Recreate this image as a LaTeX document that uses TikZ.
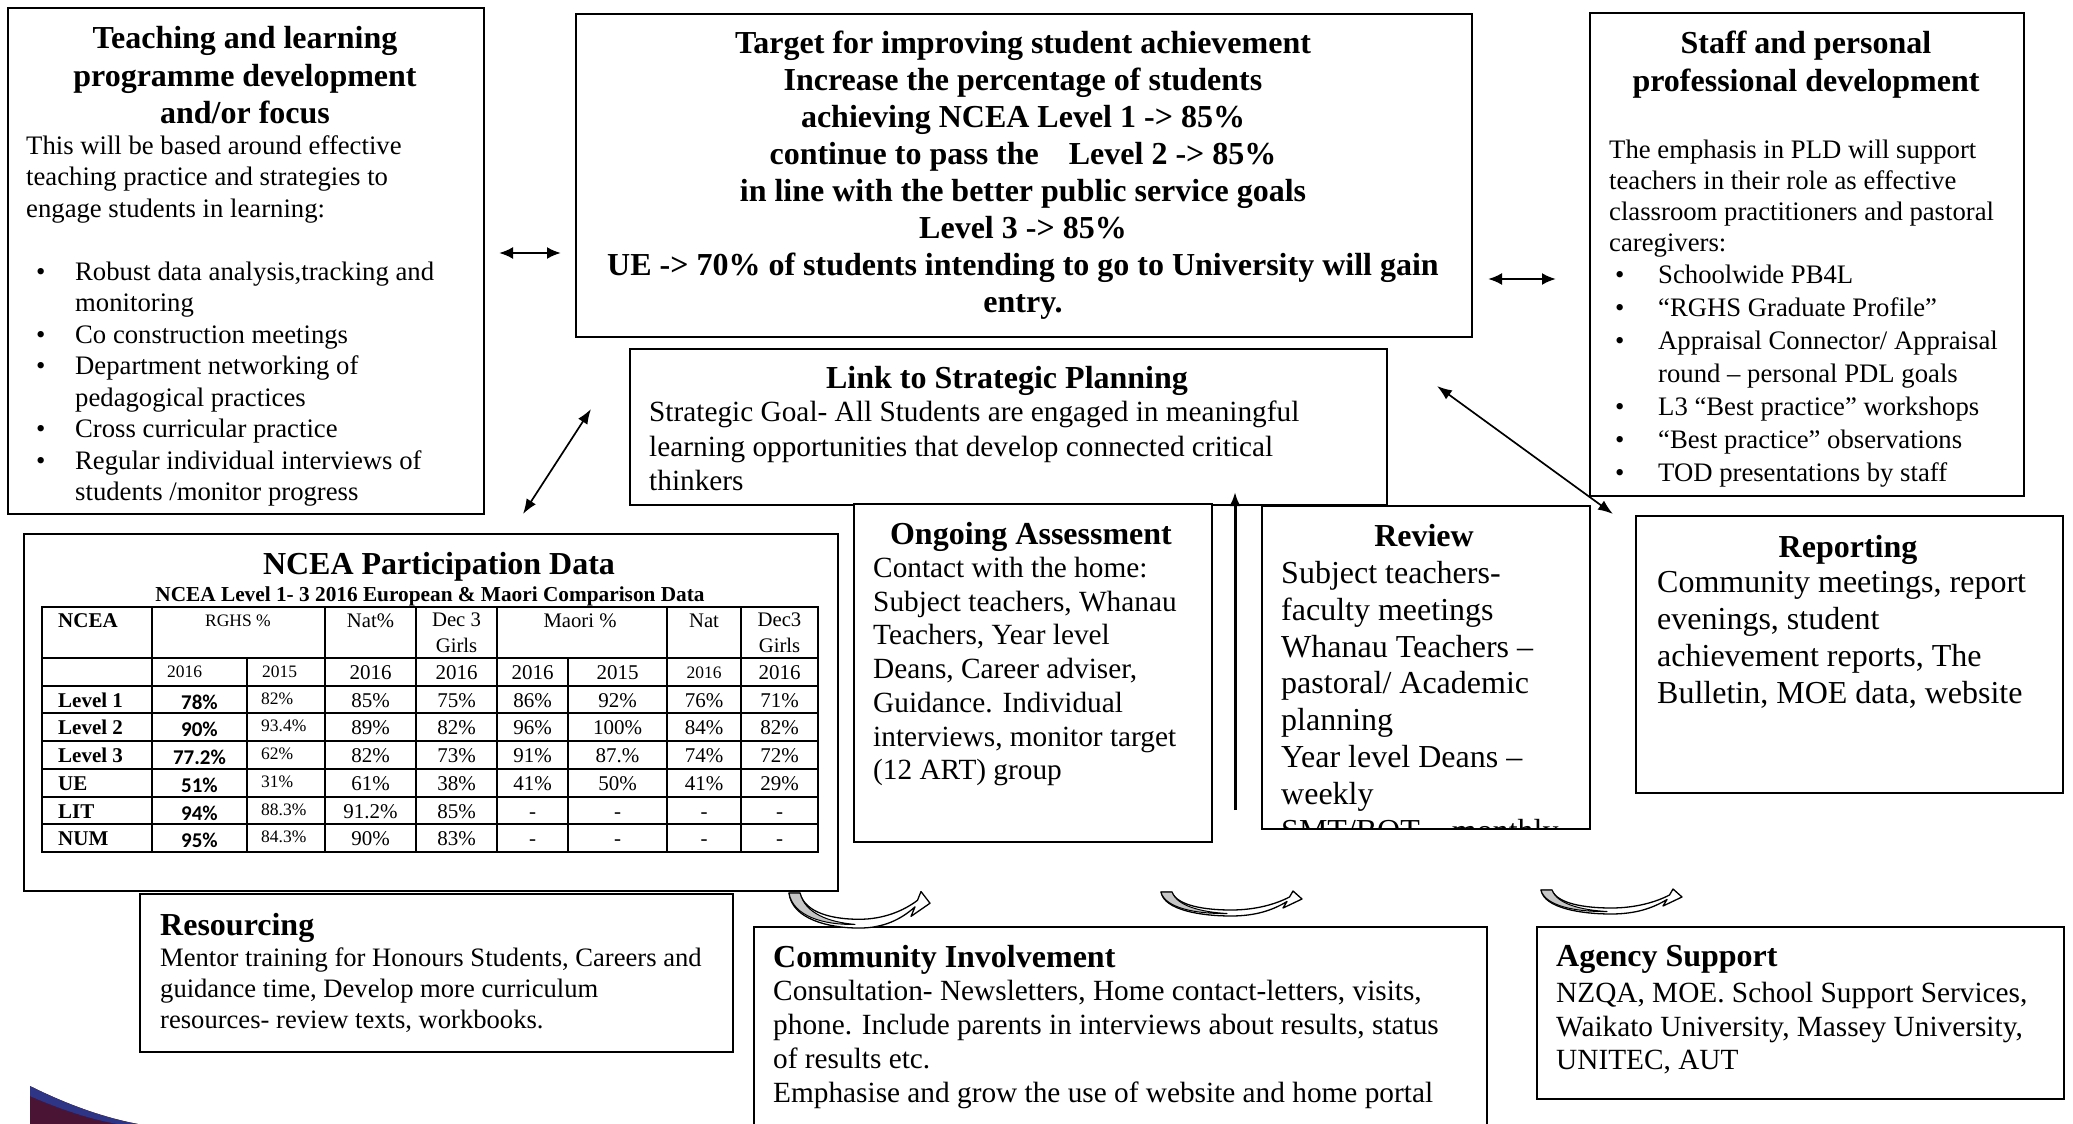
\documentclass[tikz,border=0pt]{standalone}
\usepackage{fontspec}
\setmainfont{Liberation Serif}
\newfontfamily\calib{Carlito}
\usetikzlibrary{arrows.meta}
\newcommand\bitem[2]{\hspace*{#1}\makebox[#2][l]{\textbullet}}
\tikzset{
  curvarr/.pic={
    \path[draw=black, line width=1.3pt, fill=white, line join=round]
      (0,0) -- (11,0) .. controls (16,14) and (45,18) .. (70,18)
      .. controls (95,18) and (115,12) .. (128.5,5)
      -- (132,-1) -- (141,7) -- (122,16) -- (126,9.5)
      .. controls (112,18) and (95,24) .. (70,24)
      .. controls (40,24) and (3,18) .. (0,0) -- cycle;
    \path[fill=gray!45, draw=black, line width=1pt, line join=round]
      (0,0) -- (11,0) .. controls (16,14) and (40,20) .. (66,21.5)
      .. controls (35,22) and (4,16) .. (0,0) -- cycle;
  }
}
\definecolor{navyc}{HTML}{2E3587}
\definecolor{maroonc}{HTML}{4A1535}
\begin{document}
\begin{tikzpicture}[x=1pt,y=-1pt,
  box/.style={draw, line width=1.8pt, anchor=north west, inner sep=0pt, fill=white},
  txt/.style={inner sep=0pt, align=left, anchor=north west},
  ttl/.style={inner sep=0pt, align=center, anchor=north, font=\fontsize{32}{37.7}\selectfont\bfseries},
  ttll/.style={inner sep=0pt, anchor=north west, font=\fontsize{32}{37.7}\selectfont\bfseries},
  dbl/.style={line width=2.4pt, {Latex[length=14pt,width=12pt]}-{Latex[length=14pt,width=12pt]}},
  dbls/.style={line width=1.7pt, {Latex[length=15pt,width=11pt]}-{Latex[length=15pt,width=11pt]}},
  sgl/.style={line width=3pt, -{Latex[length=14pt,width=11pt]}},
  hd/.style={inner sep=0pt, font=\fontsize{20.7}{26}\selectfont},
  lab/.style={inner sep=0pt, font=\fontsize{21}{24}\selectfont\bfseries},
  cel/.style={inner sep=0pt, font=\fontsize{21}{24}\selectfont},
  sml/.style={inner sep=0pt, font=\fontsize{17.5}{20}\selectfont},
  cb/.style={inner sep=0pt, font=\fontsize{21}{24}\selectfont\calib\bfseries},
  tl/.style={line width=2pt}
]
\useasboundingbox (0,0) rectangle (2073,1124);
\clip (0,0) rectangle (2073,1124);

% ---------- boxes ----------
\node[box, minimum width=476pt, minimum height=506pt] (teach) at (7,7) {};
\node[box, minimum width=896pt, minimum height=323pt] (target) at (575,13) {};
\node[box, minimum width=434pt, minimum height=483pt] (staff) at (1589,12) {};
\node[box, minimum width=757pt, minimum height=156pt] (link) at (629,348) {};
\node[box, minimum width=814pt, minimum height=357pt] (ncea) at (23,533) {};
\node[box, minimum width=358pt, minimum height=338pt] (ongo) at (853,503) {};
\node[box, minimum width=328pt, minimum height=323pt] (review) at (1261,505) {};
\node[box, minimum width=427pt, minimum height=277pt] (report) at (1635,515) {};
\node[box, minimum width=593pt, minimum height=158pt] (resource) at (139,893) {};
\node[box, minimum width=733pt, minimum height=214pt] (comm) at (753,926) {};
\node[box, minimum width=527pt, minimum height=172pt] (agency) at (1536,926) {};

% ---------- teaching ----------
\node[ttl] (teach-h) at (245,26) {Teaching and learning\\programme development\\and/or focus};
\node[txt, font=\fontsize{26.7}{31.5}\selectfont] (teach-b) at (26,135)
 {This will be based around effective\\teaching practice and strategies to\\engage students in learning:\\[31.5pt]
  \bitem{10pt}{39pt}Robust data analysis,tracking and\\
  \hspace*{49pt}monitoring\\
  \bitem{10pt}{39pt}Co construction meetings\\
  \bitem{10pt}{39pt}Department networking of\\
  \hspace*{49pt}pedagogical practices\\
  \bitem{10pt}{39pt}Cross curricular practice\\
  \bitem{10pt}{39pt}Regular individual interviews of\\
  \hspace*{49pt}students /monitor progress};

% ---------- target ----------
\node[ttl, font=\fontsize{32}{36.9}\selectfont\bfseries] (target-t) at (1023,31)
 {Target for improving student achievement\\Increase the percentage of students\\achieving NCEA Level 1 -> 85\%\\continue to pass the\hspace{22pt} Level 2 -> 85\%\\in line with the better public service goals\\Level 3 -> 85\%\\UE -> 70\% of students intending to go to University will gain\\entry.};

% ---------- staff ----------
\node[ttl] (staff-h) at (1806,31) {Staff and personal\\professional development};
\node[txt, font=\fontsize{26.7}{31}\selectfont] (staff-b) at (1609,140)
 {The emphasis in PLD will support\\teachers in their role as effective\\classroom practitioners and pastoral\\caregivers:};
\node[txt, font=\fontsize{26.7}{33}\selectfont] (staff-l) at (1609,265)
 {\bitem{6pt}{43pt}Schoolwide PB4L\\
  \bitem{6pt}{43pt}“RGHS Graduate Profile”\\
  \bitem{6pt}{43pt}Appraisal Connector/ Appraisal\\
  \hspace*{49pt}round – personal PDL goals\\
  \bitem{6pt}{43pt}L3 “Best practice” workshops\\
  \bitem{6pt}{43pt}“Best practice” observations\\
  \bitem{6pt}{43pt}TOD presentations by staff};

% ---------- link ----------
\node[ttl] (link-h) at (1007,366) {Link to Strategic Planning};
\node[txt, font=\fontsize{29.3}{34.5}\selectfont] (link-b) at (649,401)
 {Strategic Goal- All Students are engaged in meaningful\\learning opportunities that develop connected critical\\thinkers};

% ---------- ongoing ----------
\node[ttl] (ongo-h) at (1031,522) {Ongoing Assessment};
\node[txt, font=\fontsize{29.3}{33.7}\selectfont] (ongo-b) at (873,557)
 {Contact with the home:\\Subject teachers, Whanau\\Teachers, Year level\\Deans, Career adviser,\\Guidance. Individual\\interviews, monitor target\\(12 ART) group};

% ---------- review ----------
\node[ttl] (review-h) at (1424,524) {Review};
\begin{scope}
\clip (1262,506) rectangle (1588,827);
\node[txt, font=\fontsize{32}{36.8}\selectfont] (review-b) at (1281,561)
 {Subject teachers-\\faculty meetings\\Whanau Teachers –\\pastoral/ Academic\\planning\\Year level Deans –\\weekly\\SMT/BOT – monthly};
\end{scope}

% ---------- reporting ----------
\node[ttl] (report-h) at (1848,535) {Reporting};
\node[txt, font=\fontsize{32}{37}\selectfont] (report-b) at (1657,571)
 {Community meetings, report\\evenings, student\\achievement reports, The\\Bulletin, MOE data, website};

% ---------- resourcing ----------
\node[ttll] (res-h) at (160,913) {Resourcing};
\node[txt, font=\fontsize{26.6}{31}\selectfont] (res-b) at (160,948)
 {Mentor training for Honours Students, Careers and\\guidance time, Develop more curriculum\\resources- review texts, workbooks.};

% ---------- community ----------
\node[ttll] (comm-h) at (773,945) {Community Involvement};
\node[txt, font=\fontsize{29.3}{34}\selectfont] (comm-b) at (773,980)
 {Consultation- Newsletters, Home contact-letters, visits,\\phone. Include parents in interviews about results, status\\of results etc.\\Emphasise and grow the use of website and home portal};

% ---------- agency ----------
\node[ttll] (ag-h) at (1556,945) {Agency Support};
\node[txt, font=\fontsize{29.3}{33.5}\selectfont] (ag-b) at (1556,982)
 {NZQA, MOE. School Support Services,\\Waikato University, Massey University,\\UNITEC, AUT};

% ---------- NCEA table ----------
\node[ttl] (ncea-h) at (439,552) {NCEA Participation Data};
\node[inner sep=0pt, anchor=north, font=\fontsize{21.3}{24}\selectfont\bfseries] (ncea-s) at (430,587)
 {NCEA Level 1- 3 2016 European \& Maori Comparison Data};
\draw[line width=2.4pt] (42,607) rectangle (818,852);
\foreach \yy in {658,686,713,741,769,797,824} \draw[tl] (42,\yy) -- (818,\yy);
\foreach \xx in {152,325,416,497,667,741} \draw[tl] (\xx,607) -- (\xx,852);
\foreach \xx in {247,568} \draw[tl] (\xx,658) -- (\xx,852);
% header
\node[lab, anchor=base west] (h1) at (58,627) {NCEA};
\node[sml, anchor=base] (h2) at (238,626) {RGHS \%};
\node[hd, anchor=base] (h3) at (370.5,627) {Nat\%};
\node[hd, anchor=north, align=center] (h4) at (456.5,613) {Dec 3\\Girls};
\node[hd, anchor=base] (h5) at (580,627) {Maori \%};
\node[hd, anchor=base] (h6) at (704,627) {Nat};
\node[hd, anchor=north, align=center] (h7) at (779.5,613) {Dec3\\Girls};
% years
\node[sml, anchor=base west] (y1) at (167,677) {2016};
\node[sml, anchor=base west] (y2) at (262,677) {2015};
\node[cel, anchor=base] (y3) at (370.5,679) {2016};
\node[cel, anchor=base] (y4) at (456.5,679) {2016};
\node[cel, anchor=base] (y5) at (532.5,679) {2016};
\node[cel, anchor=base] (y6) at (617.5,679) {2015};
\node[sml, anchor=base] (y7) at (704,678) {2016};
\node[cel, anchor=base] (y8) at (779.5,679) {2016};
% rows
\foreach \y/\lab/\a/\b/\c/\d/\e/\f/\g/\h [count=\i] in {
 707/Level 1/78\%/82\%/85\%/75\%/86\%/92\%/76\%/71\%,
 734.5/Level 2/90\%/93.4\%/89\%/82\%/96\%/100\%/84\%/82\%,
 762.5/Level 3/77.2\%/62\%/82\%/73\%/91\%/87.\%/74\%/72\%,
 790/UE/51\%/31\%/61\%/38\%/41\%/50\%/41\%/29\%,
 818/LIT/94\%/88.3\%/91.2\%/85\%/-/-/-/-,
 845.5/NUM/95\%/84.3\%/90\%/83\%/-/-/-/-}{
  \node[lab, anchor=base west] (rl\i) at (58,\y) {\lab};
  \node[cb, anchor=base] (ra\i) at (199.5,\y+2) {\a};
  \node[sml, anchor=base west] (rb\i) at (261,\y-3) {\b};
  \node[cel, anchor=base] (rc\i) at (370.5,\y) {\c};
  \node[cel, anchor=base] (rd\i) at (456.5,\y) {\d};
  \node[cel, anchor=base] (re\i) at (532.5,\y) {\e};
  \node[cel, anchor=base] (rf\i) at (617.5,\y) {\f};
  \node[cel, anchor=base] (rg\i) at (704,\y) {\g};
  \node[cel, anchor=base] (rh\i) at (779.5,\y) {\h};
}

% ---------- connectors ----------
\coordinate (d1a) at (499,253); \coordinate (d1b) at (561,253);
\coordinate (d2a) at (1488,279); \coordinate (d2b) at (1556,279);
\coordinate (d3a) at (591,409); \coordinate (d3b) at (523,514);
\coordinate (d4a) at (1437,386); \coordinate (d4b) at (1613,514);
\coordinate (v1a) at (1235,810); \coordinate (v1b) at (1235,492);
\draw[dbl] (d1a) -- (d1b);
\draw[dbl] (d2a) -- (d2b);
\draw[dbls] (d3a) -- (d3b);
\draw[dbls] (d4a) -- (d4b);
\draw[sgl] (v1a) -- (v1b);

% ---------- curved block arrows ----------
\pic[yscale=1.46] at (789,893) {curvarr};
\pic at (1161,892) {curvarr};
\pic at (1541,890) {curvarr};

% ---------- corner swoosh ----------
\fill[maroonc] (30,1124) -- (30,1086) .. controls (62,1102) and (100,1117) .. (138,1124) -- cycle;
\fill[navyc] (30,1086) .. controls (62,1102) and (100,1117) .. (138,1124) -- (118,1124)
  .. controls (88,1119) and (55,1107) .. (30,1096) -- cycle;
\end{tikzpicture}
\end{document}
